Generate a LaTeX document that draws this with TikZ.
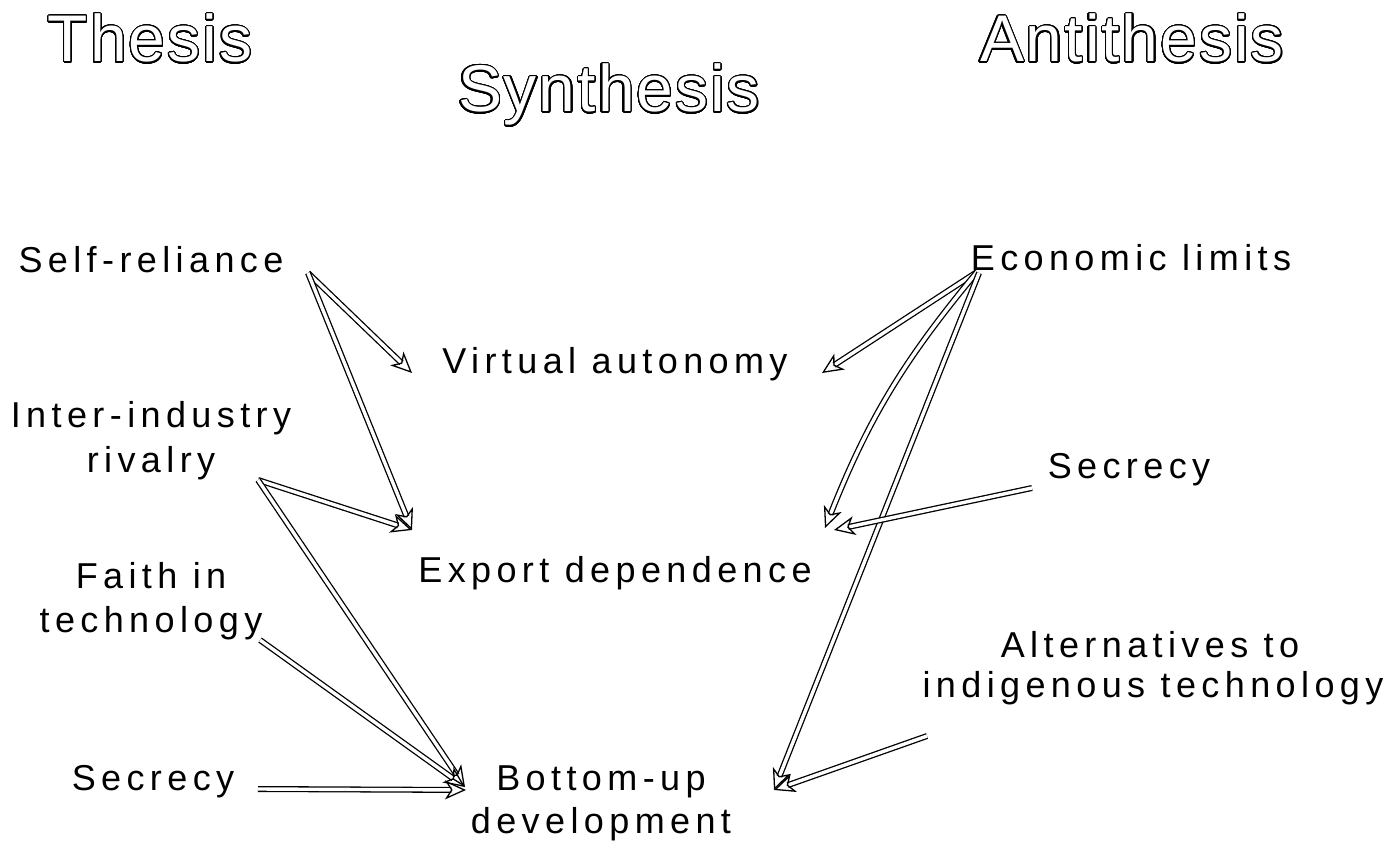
\documentclass[tikz,border=0pt]{standalone}
\usepackage{fontspec}
\usepackage{contour}
\setmainfont{Liberation Sans}
\usetikzlibrary{arrows.meta}
\newfontfamily\bodyfont[LetterSpace=15]{Liberation Sans}
\newfontfamily\headfont[LetterSpace=3]{Liberation Sans}
\contourlength{1.1pt}
\contournumber{48}
\tikzset{
  lbl/.style={anchor=base, inner sep=0pt, font=\bodyfont\fontsize{36}{43}\selectfont},
  head/.style={anchor=base, inner sep=0pt, font=\headfont\fontsize{66}{70}\selectfont},
  dbl/.style={draw=black, double=white, double distance=3.4pt, line width=1.3pt,
    -{Stealth[open, length=21pt, width=19pt, inset=6pt, line width=1.3pt]}},
}
\newcommand{\outl}[1]{\contour{black}{\textcolor{white}{#1}}}
\begin{document}
\begin{tikzpicture}[x=1pt,y=-1pt]
\useasboundingbox (0,0) rectangle (1387,848);
% headings
\node[head] (thesis) at (150,62) {\outl{Thesis}};
\node[head] (synth) at (609,112) {\outl{Synthesis}};
\node[head] (anti) at (1132,62) {\outl{Antithesis}};
% thesis labels
\node[lbl] (selfrel) at (151,272) {Self-reliance};
\node[lbl] (inter1) at (151,427) {Inter-industry};
\node[lbl] (inter2) at (151,472) {rivalry};
\node[lbl] (faith1) at (151,588) {Faith in};
\node[lbl] (faith2) at (151,632) {technology};
\node[lbl] (secl) at (153,790) {Secrecy};
% synthesis labels
\node[lbl] (virt) at (615,373) {Virtual autonomy};
\node[lbl] (export) at (615,582) {Export dependence};
\node[lbl] (bot1) at (601,790) {Bottom-up};
\node[lbl] (bot2) at (601,833) {development};
% antithesis labels
\node[lbl] (econ) at (1131,270) {Economic limits};
\node[lbl] (secr) at (1129,478) {Secrecy};
\node[lbl] (alt1) at (1150,657) {Alternatives to};
\node[lbl] (alt2) at (1153,697) {indigenous technology};
% connector end points
\coordinate (sr-o) at (308,273);
\coordinate (ir-o) at (258,480);
\coordinate (ft-o) at (260,640);
\coordinate (sl-o) at (258,789);
\coordinate (ec-o) at (977,272);
\coordinate (ec-o2) at (979,273);
\coordinate (sr2-o) at (1032,488);
\coordinate (al-o) at (927,736);
\coordinate (va-l) at (412,373);
\coordinate (va-r) at (822,373);
\coordinate (ex-l) at (412,530);
\coordinate (ex-r) at (825,528);
\coordinate (ex-r2) at (834,530);
\coordinate (bu-l) at (465,787);
\coordinate (bu-l2) at (466,790);
\coordinate (bu-r) at (774,790);
% arrows
\draw[dbl] (sr-o) -- (va-l);
\draw[dbl] (sr-o) -- (ex-l);
\draw[dbl] (ir-o) -- (ex-l);
\draw[dbl] (ir-o) -- (bu-l);
\draw[dbl] (ft-o) -- (bu-l);
\draw[dbl] (sl-o) -- (bu-l2);
\draw[dbl] (ec-o) -- (va-r);
\draw[dbl] (ec-o) to[bend right=9] (ex-r);
\draw[dbl] (ec-o2) -- (bu-r);
\draw[dbl] (sr2-o) -- (ex-r2);
\draw[dbl] (al-o) -- (bu-r);
\end{tikzpicture}
\end{document}
